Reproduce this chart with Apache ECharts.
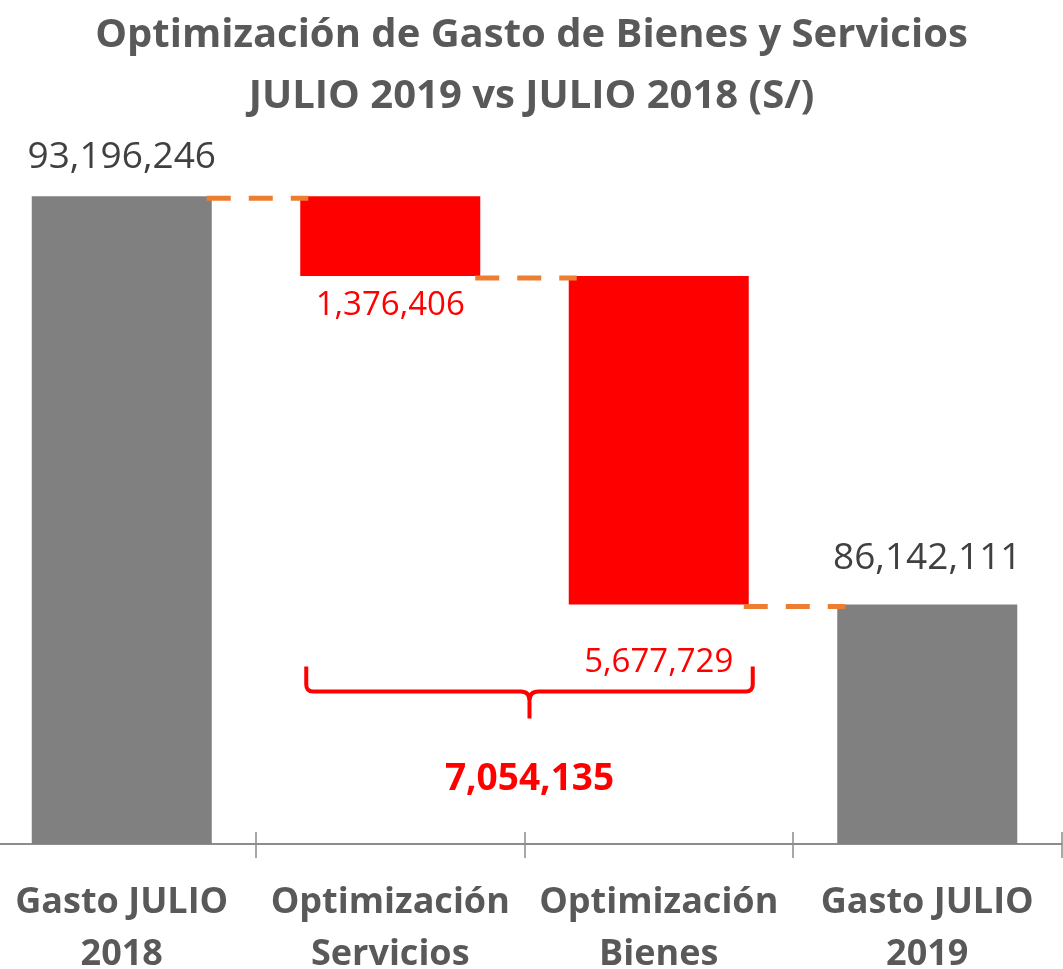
<!DOCTYPE html>
<html>
<head>
<meta charset="utf-8">
<script src="https://cdn.jsdelivr.net/npm/echarts@6/dist/echarts.min.js"></script>
<style>
  html, body { margin: 0; padding: 0; background: #fff; }
  #chart { width: 1063px; height: 969px; }
</style>
</head>
<body>
<div id="chart"></div>
<script>
'use strict'

// data
var categories = ['Gasto JULIO\n2018', 'Optimización\nServicios', 'Optimización\nBienes', 'Gasto JULIO\n2019'];
var values = [93196246, -1376406, -5677729, 86142111];
var isTotal = [true, false, false, true];

var fmt = function (v) { return Math.abs(v).toLocaleString('en-US'); };

// waterfall pieces
var base = [], totals = [], deltas = [], levels = [];
var running = 0;
values.forEach(function (v, i) {
    if (isTotal[i]) {
        base.push(0);
        totals.push(v);
        deltas.push('-');
        running = v;
    } else {
        running += v;
        base.push(running);
        totals.push('-');
        deltas.push(-v);
    }
    levels.push(running);
});
var savings = values.filter(function (v, i) { return !isTotal[i]; })
    .reduce(function (a, b) { return a - b; }, 0);

// label gaps per bar (px)
var totalGap = [20, 0, 0, 27];
var deltaGap = [0, 13, 42, 0];

var BAR_W = 180;
var chart = echarts.init(document.getElementById('chart'));

chart.setOption({
    animation: false,
    title: {
        text: 'Optimización de Gasto de Bienes y Servicios\nJULIO 2019 vs JULIO 2018 (S/)',
        left: 'center',
        top: 0,
        textStyle: {
            fontFamily: 'Open Sans',
            fontSize: 40,
            fontWeight: 'bold',
            color: '#595959',
            lineHeight: 61
        }
    },
    grid: { left: -12.5, right: 1.5, top: 92, bottom: 125, containLabel: false, outerBoundsMode: 'none' },
    xAxis: [{
        type: 'category',
        data: categories,
        axisLine: { lineStyle: { color: '#8c8c8c', width: 2 } },
        axisTick: { show: true, inside: true, length: 12, lineStyle: { color: '#8c8c8c', width: 1.5 } },
        axisLabel: {
            interval: 0,
            margin: 33,
            fontFamily: 'Open Sans',
            fontSize: 36,
            fontWeight: 'bold',
            color: '#595959',
            lineHeight: 52
        }
    }, {
        type: 'category',
        data: categories,
        position: 'bottom',
        axisLine: { show: false },
        axisTick: { show: true, length: 14, lineStyle: { color: '#8c8c8c', width: 1.5 } },
        axisLabel: { show: false }
    }],
    yAxis: {
        type: 'value',
        min: 82000000,
        max: 95000000,
        show: false,
        splitLine: { show: false }
    },
    series: [{
        type: 'bar',
        stack: 'w',
        barWidth: BAR_W,
        silent: true,
        itemStyle: { color: 'transparent' },
        data: base
    }, {
        type: 'bar',
        stack: 'w',
        barWidth: BAR_W,
        itemStyle: { color: '#808080' },
        label: {
            show: true,
            position: 'top',
            fontFamily: 'Open Sans',
            fontSize: 37,
            color: '#404040',
            formatter: function (p) { return fmt(p.value); }
        },
        data: totals.map(function (v, i) {
            return v === '-' ? v : { value: v, label: { distance: totalGap[i] } };
        })
    }, {
        type: 'bar',
        stack: 'w',
        barWidth: BAR_W,
        itemStyle: { color: '#ff0000' },
        label: {
            show: true,
            position: 'bottom',
            fontFamily: 'Open Sans',
            fontSize: 33,
            color: '#ff0000',
            formatter: function (p) { return fmt(p.value); }
        },
        data: deltas.map(function (v, i) {
            return v === '-' ? v : { value: v, label: { distance: deltaGap[i] } };
        })
    }, {
        // dashed connectors
        type: 'custom',
        z: 5,
        silent: true,
        encode: { x: 0, y: 1 },
        data: levels.slice(0, -1).map(function (l, i) { return [i, l]; }),
        renderItem: function (params, api) {
            var i = api.value(0), lvl = api.value(1);
            var a = api.coord([i, lvl]);
            var b = api.coord([i + 1, lvl]);
            var y = a[1] + 2;
            return {
                type: 'line',
                shape: { x1: a[0] + BAR_W / 2 - 5, y1: y, x2: b[0] - BAR_W / 2 + 8, y2: y },
                style: { stroke: '#ed7d31', lineWidth: 5, lineDash: [24, 18] }
            };
        }
    }, {
        // brace + total savings
        type: 'custom',
        z: 5,
        silent: true,
        encode: { x: 0, y: 2 },
        data: [[1, 2, levels[2], savings]],
        renderItem: function (params, api) {
            var a = api.coord([api.value(0), api.value(2)]);
            var b = api.coord([api.value(1), api.value(2)]);
            var xL = a[0] - BAR_W / 2 + 6, xR = b[0] + BAR_W / 2 + 4;
            var xC = (xL + xR) / 2;
            var y0 = a[1] + 62, yH = y0 + 25, yT = y0 + 52;
            var r = 7, rc = 9;
            var d = 'M' + xL + ' ' + y0 + ' L' + xL + ' ' + (yH - r) +
                ' Q' + xL + ' ' + yH + ' ' + (xL + r) + ' ' + yH +
                ' L' + (xC - rc) + ' ' + yH +
                ' Q' + xC + ' ' + yH + ' ' + xC + ' ' + (yH + rc) +
                ' L' + xC + ' ' + yT +
                ' M' + xC + ' ' + (yH + rc) +
                ' Q' + xC + ' ' + yH + ' ' + (xC + rc) + ' ' + yH +
                ' L' + (xR - r) + ' ' + yH +
                ' Q' + xR + ' ' + yH + ' ' + xR + ' ' + (yH - r) +
                ' L' + xR + ' ' + y0;
            return {
                type: 'group',
                children: [{
                    type: 'path',
                    shape: { pathData: d },
                    style: { stroke: '#ff0000', lineWidth: 4, fill: null }
                }, {
                    type: 'text',
                    style: {
                        text: fmt(api.value(3)),
                        x: xC,
                        y: y0 + 113,
                        align: 'center',
                        verticalAlign: 'middle',
                        textAlign: 'center',
                        textVerticalAlign: 'middle',
                        fill: '#ff0000',
                        fontFamily: 'Open Sans',
                        fontSize: 37,
                        fontWeight: 'bold'
                    }
                }]
            };
        }
    }]
});
</script>
</body>
</html>
